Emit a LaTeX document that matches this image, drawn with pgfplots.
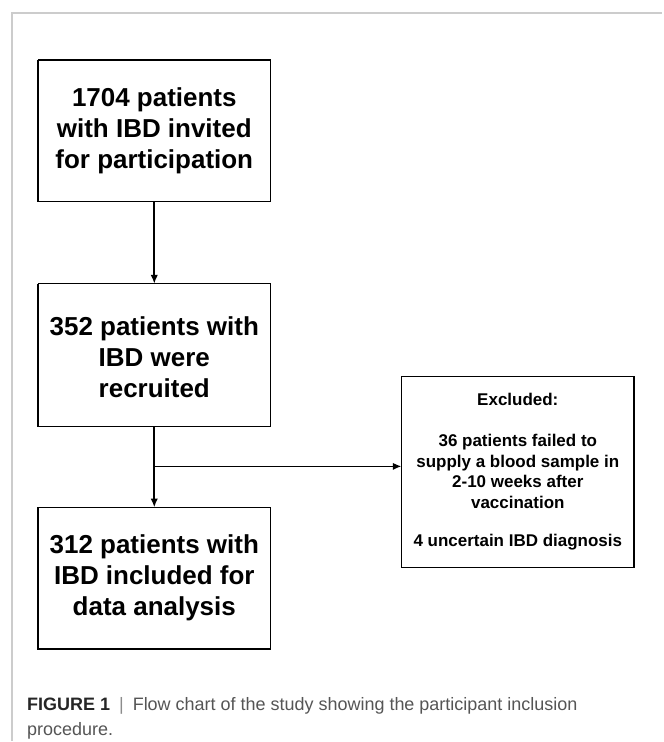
\documentclass[border=0pt]{standalone}
\usepackage{pgfplots}
\pgfplotsset{compat=1.18}
\usetikzlibrary{arrows.meta}
\usepackage{fontspec}
\setmainfont{Liberation Sans}
\definecolor{framegray}{HTML}{CCCCCC}
\definecolor{capgray}{HTML}{555555}
\begin{document}
\begin{tikzpicture}
\begin{axis}[
  width=497.25pt, height=556.5pt, scale only axis,
  xmin=0, xmax=663, ymin=0, ymax=742, y dir=reverse,
  hide axis, clip=false,
]
% outer frame
\addplot[framegray, line width=1.5pt, no markers] coordinates {(12,742) (12,13) (663,13)};
% boxes
\addplot[black, line width=1.1pt, no markers] coordinates {(38,60) (271,60) (271,202) (38,202) (38,60)};
\addplot[black, line width=1.1pt, no markers] coordinates {(38,284) (271,284) (271,427) (38,427) (38,284)};
\addplot[black, line width=1.1pt, no markers] coordinates {(38,508) (271,508) (271,650) (38,650) (38,508)};
\addplot[black, line width=1.1pt, no markers] coordinates {(402,377) (635,377) (635,568) (402,568) (402,377)};
% arrows
\addplot[black, line width=1.2pt, no markers, -{Latex[length=6.5pt,width=5.5pt]}] coordinates {(154.5,202) (154.5,284)};
\addplot[black, line width=1.2pt, no markers, -{Latex[length=6.5pt,width=5.5pt]}] coordinates {(154.5,427) (154.5,508)};
\addplot[black, line width=1.2pt, no markers, -{Latex[length=6.5pt,width=5.5pt]}] coordinates {(154.5,467) (402,467)};
% box texts
\node[align=center, font=\fontsize{19.5}{23.25}\selectfont\bfseries] at (axis cs:154.5,131) {1704 patients\\with IBD invited\\for participation};
\node[align=center, font=\fontsize{19.5}{23.25}\selectfont\bfseries] at (axis cs:154.5,358) {352 patients with\\IBD were\\recruited};
\node[align=center, font=\fontsize{19.5}{23.25}\selectfont\bfseries] at (axis cs:154.5,579) {312 patients with\\IBD included for\\data analysis};
\node[align=center, font=\fontsize{12.75}{15.5}\selectfont\bfseries] at (axis cs:518.5,400) {Excluded:};
\node[align=center, font=\fontsize{12.75}{15.5}\selectfont\bfseries] at (axis cs:518.5,472) {36 patients failed to\\supply a blood sample in\\2-10 weeks after\\vaccination};
\node[align=center, font=\fontsize{12.75}{15.5}\selectfont\bfseries] at (axis cs:518.5,543) {4 uncertain IBD diagnosis};
% caption
\node[anchor=base west, inner sep=0pt, font=\fontsize{13.5}{16}\selectfont] at (axis cs:27,711.5) {{\bfseries\color{black!85}FIGURE 1}\enspace{\color{black!45}|}\enspace{\color{capgray}Flow chart of the study showing the participant inclusion}};
\node[anchor=base west, inner sep=0pt, font=\fontsize{13.5}{16}\selectfont, text=capgray] at (axis cs:27,736) {procedure.};
\end{axis}
\path (0,0) rectangle (497.25pt,556.5pt);
\end{tikzpicture}
\end{document}
